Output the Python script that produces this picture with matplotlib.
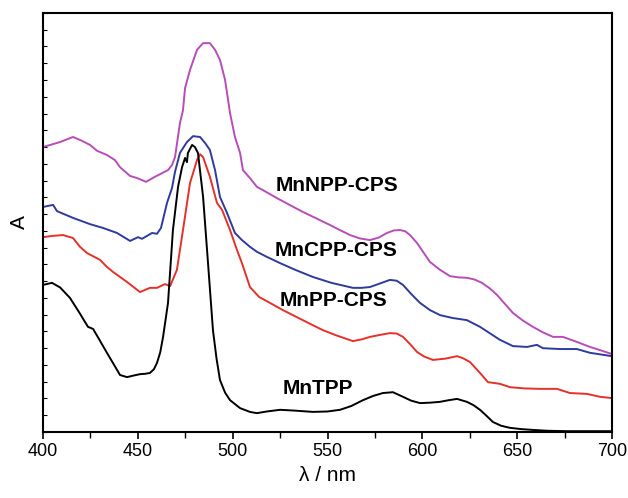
import matplotlib.pyplot as plt
from matplotlib.ticker import MultipleLocator

plt.rcParams['font.family'] = ['Liberation Sans', 'DejaVu Sans']

# MnTPP (black)
tpp_nm = [400, 404.7, 409.0, 414.2, 419.0, 423.7, 426.4, 430.0, 433.7, 437.5, 440.6, 444.3,
          448.0, 451.1, 454.0, 456.4, 458.5, 460.1, 461.8, 463.3, 465.9, 468.5, 471.2, 473.3,
          474.9, 475.9, 476.4, 478.6, 480.1, 481.7, 484.4, 487.0, 489.6, 491.5, 493.3, 496.0,
          498.6, 503.9, 509.1, 512.8, 518.0, 525.0, 533.0, 542.3, 550.0, 556.6, 562.5, 568.7,
          574.0, 579.2, 584.5, 589.8, 594.0, 598.8, 604.0, 609.3, 614.0, 618.3, 623.5, 627.0,
          630.4, 634.0, 637.2, 641.5, 646.2, 652.0, 658.3, 666.0, 676.3, 700]
tpp_a = [0.351, 0.356, 0.345, 0.320, 0.286, 0.251, 0.246, 0.218, 0.189, 0.160, 0.136, 0.131,
         0.135, 0.138, 0.139, 0.141, 0.150, 0.165, 0.190, 0.227, 0.308, 0.482, 0.585, 0.632,
         0.654, 0.644, 0.666, 0.685, 0.680, 0.666, 0.561, 0.403, 0.243, 0.175, 0.124, 0.094,
         0.076, 0.057, 0.048, 0.045, 0.049, 0.053, 0.051, 0.048, 0.049, 0.053, 0.062, 0.076,
         0.086, 0.093, 0.095, 0.084, 0.075, 0.069, 0.070, 0.072, 0.076, 0.079, 0.072, 0.064,
         0.053, 0.038, 0.024, 0.015, 0.010, 0.007, 0.005, 0.003, 0.002, 0.002]

# MnPP-CPS (red)
pp_nm = [400, 405.0, 410.5, 415.8, 419.5, 423.2, 430.0, 433.7, 436.9, 440.6, 444.3, 448.0,
         451.1, 456.4, 460.1, 464.3, 467.0, 470.6, 473.8, 477.5, 481.2, 482.8, 484.4, 488.0,
         491.7, 494.4, 498.6, 502.3, 504.9, 509.1, 514.0, 519.7, 526.0, 533.9, 540.0, 547.6,
         555.0, 563.4, 568.0, 572.4, 578.0, 582.9, 586.5, 589.8, 593.5, 597.2, 601.0, 605.6,
         612.0, 618.3, 621.5, 625.1, 630.4, 634.6, 640.9, 646.2, 654.0, 662.0, 671.0, 677.8,
         686.8, 693.7, 700]
pp_a = [0.465, 0.468, 0.470, 0.463, 0.442, 0.427, 0.411, 0.394, 0.382, 0.370, 0.358, 0.345,
        0.334, 0.344, 0.344, 0.353, 0.348, 0.387, 0.482, 0.594, 0.649, 0.663, 0.656, 0.609,
        0.547, 0.530, 0.482, 0.434, 0.403, 0.346, 0.322, 0.308, 0.292, 0.274, 0.260, 0.243,
        0.230, 0.217, 0.221, 0.227, 0.232, 0.236, 0.235, 0.227, 0.210, 0.191, 0.180, 0.172,
        0.175, 0.181, 0.176, 0.167, 0.141, 0.119, 0.115, 0.107, 0.104, 0.103, 0.103, 0.093,
        0.091, 0.084, 0.081]

# MnCPP-CPS (blue)
cpp_nm = [400, 405.3, 407.4, 415.8, 424.8, 431.6, 439.0, 445.9, 450.1, 452.2, 457.5, 460.1,
          462.2, 465.4, 468.0, 469.6, 472.2, 475.9, 479.1, 482.8, 485.4, 488.0, 490.7, 493.3,
          497.0, 501.2, 504.9, 509.1, 512.8, 518.0, 525.0, 533.0, 542.3, 552.0, 563.4, 568.0,
          572.4, 578.0, 582.9, 586.5, 589.8, 594.0, 598.8, 604.0, 609.3, 616.0, 623.5, 630.4,
          635.5, 640.9, 647.8, 655.2, 660.4, 663.6, 672.6, 681.5, 688.4, 700]
cpp_a = [0.537, 0.542, 0.527, 0.511, 0.496, 0.487, 0.475, 0.456, 0.465, 0.461, 0.475, 0.473,
         0.487, 0.547, 0.582, 0.621, 0.666, 0.692, 0.706, 0.704, 0.690, 0.673, 0.625, 0.561,
         0.523, 0.475, 0.458, 0.442, 0.430, 0.418, 0.403, 0.387, 0.370, 0.356, 0.344, 0.344,
         0.346, 0.355, 0.363, 0.361, 0.351, 0.330, 0.308, 0.291, 0.279, 0.272, 0.267, 0.251,
         0.236, 0.220, 0.205, 0.203, 0.208, 0.200, 0.198, 0.198, 0.189, 0.181]

# MnNPP-CPS (magenta)
npp_nm = [400, 409.0, 415.8, 420.0, 424.8, 428.5, 433.7, 437.9, 440.6, 445.9, 449.6, 454.3,
          459.0, 465.9, 468.0, 469.6, 472.2, 473.8, 474.9, 477.5, 481.2, 484.4, 488.0, 490.7,
          493.3, 496.0, 498.6, 501.2, 503.9, 505.4, 509.1, 512.8, 518.0, 523.4, 530.0, 537.1,
          544.0, 551.3, 556.5, 561.9, 567.0, 572.4, 577.0, 581.4, 585.0, 588.2, 591.0, 593.5,
          597.2, 604.0, 609.0, 614.6, 619.0, 623.5, 627.5, 631.4, 635.5, 639.4, 643.5, 647.8,
          653.0, 658.3, 663.5, 668.9, 674.1, 681.5, 688.4, 694.0, 700]
npp_a = [0.680, 0.692, 0.704, 0.696, 0.685, 0.671, 0.661, 0.649, 0.632, 0.611, 0.606, 0.597,
         0.609, 0.625, 0.637, 0.656, 0.737, 0.768, 0.821, 0.864, 0.912, 0.928, 0.928, 0.912,
         0.888, 0.840, 0.761, 0.704, 0.666, 0.625, 0.606, 0.585, 0.572, 0.558, 0.542, 0.525,
         0.510, 0.494, 0.482, 0.470, 0.462, 0.458, 0.464, 0.475, 0.481, 0.482, 0.479, 0.470,
         0.451, 0.406, 0.388, 0.372, 0.369, 0.368, 0.364, 0.356, 0.343, 0.327, 0.306, 0.284,
         0.266, 0.251, 0.238, 0.227, 0.227, 0.215, 0.203, 0.195, 0.186]

labels = ['MnNPP-CPS', 'MnCPP-CPS', 'MnPP-CPS', 'MnTPP']
label_x = [522.8, 522.3, 525.0, 526.5]
label_y = [0.589, 0.432, 0.315, 0.105]

fig = plt.figure(figsize=(6.28, 4.98), dpi=100)
ax = fig.add_axes([0.0685, 0.1325, 0.906, 0.8415])

style = dict(lw=1.4, solid_joinstyle='round', solid_capstyle='round')
ax.plot(npp_nm, npp_a, color='#b84cb8', **style)
ax.plot(cpp_nm, cpp_a, color='#2d3b9c', **style)
ax.plot(pp_nm, pp_a, color='#e5312a', **style)
ax.plot(tpp_nm, tpp_a, color='black', **style)

for txt, x, y in zip(labels, label_x, label_y):
    ax.text(x, y, txt, fontsize=15, fontweight='bold', va='center', ha='left')

ax.set_xlim(400, 700)
ax.set_ylim(0, 1)
ax.xaxis.set_major_locator(MultipleLocator(50))
ax.xaxis.set_minor_locator(MultipleLocator(25))
ax.tick_params(axis='x', which='major', direction='out', length=5, width=1.2,
               labelsize=13, pad=3, top=False)
ax.tick_params(axis='x', which='minor', direction='out', length=4, width=1.0, top=False)
ax.yaxis.set_major_locator(MultipleLocator(0.04))
ax.tick_params(axis='y', which='major', direction='in', length=3, width=0.8,
               labelleft=False, right=False)
for sp in ax.spines.values():
    sp.set_linewidth(1.5)

ax.set_xlabel('λ / nm', fontsize=15, labelpad=4)
ax.set_ylabel('A', fontsize=15, labelpad=10)

fig.savefig('out.png', dpi=100)
